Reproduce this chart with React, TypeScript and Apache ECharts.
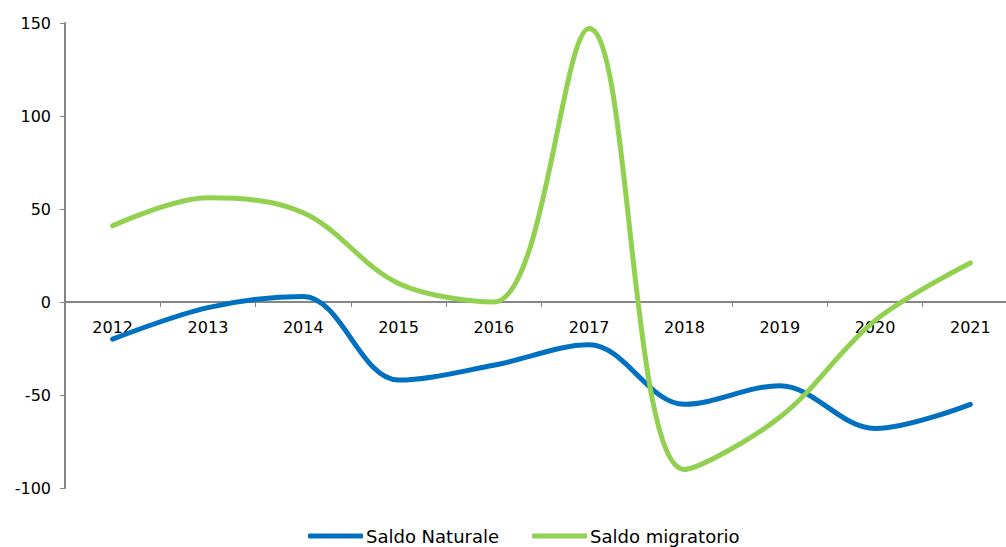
import React, { useEffect, useRef } from "react";
import * as echarts from "echarts";

const years = ["2012", "2013", "2014", "2015", "2016", "2017", "2018", "2019", "2020", "2021"];
const saldoNaturale = [-20, -3, 3, -42, -34, -23, -55, -45, -68, -55];
const saldoMigratorio = [41, 56, 48, 10, 0, 147, -90, -62, -10, 21];
const yTicks = { min: -100, max: 150, interval: 50 };

const FONT = "'DejaVu Sans', 'Noto Sans', sans-serif";

export default function App() {
  const ref = useRef<HTMLDivElement>(null);
  useEffect(() => {
    if (!ref.current) return;
    const chart = echarts.init(ref.current, undefined, { renderer: "svg" });
    chart.setOption({
      animation: false,
      backgroundColor: "#ffffff",
      grid: { left: 65, right: 2, top: 23, bottom: 59, containLabel: false },
      legend: {
        bottom: -3,
        left: 303,
        itemWidth: 55,
        itemHeight: 5,
        itemGap: 33,
        icon: "roundRect",
        textStyle: { fontFamily: FONT, fontSize: 18, color: "#000", padding: [0, 0, 0, -2] },
        data: ["Saldo Naturale", "Saldo migratorio"],
      },
      xAxis: {
        type: "category",
        data: years,
        boundaryGap: true,
        offset: -186,
        axisLine: { onZero: false, lineStyle: { color: "#868686", width: 2 } },
        axisTick: { show: true, length: 5, inside: false, lineStyle: { color: "#868686" } },
        axisLabel: { fontFamily: FONT, fontSize: 16, color: "#000", margin: 17 },
        splitLine: { show: false },
      },
      yAxis: {
        type: "value",
        min: yTicks.min,
        max: yTicks.max,
        interval: yTicks.interval,
        axisLine: { show: true, lineStyle: { color: "#868686", width: 2 } },
        axisTick: { show: true, length: 5, lineStyle: { color: "#868686" } },
        axisLabel: { fontFamily: FONT, fontSize: 16, color: "#000", margin: 14 },
        splitLine: { show: false },
      },
      series: [
        {
          name: "Saldo Naturale",
          type: "line",
          data: saldoNaturale,
          smooth: 0.35,
          showSymbol: false,
          symbol: "none",
          lineStyle: { color: "#0070C0", width: 5, cap: "round" },
          itemStyle: { color: "#0070C0" },
        },
        {
          name: "Saldo migratorio",
          type: "line",
          data: saldoMigratorio,
          smooth: 0.35,
          showSymbol: false,
          symbol: "none",
          lineStyle: { color: "#92D050", width: 5, cap: "round" },
          itemStyle: { color: "#92D050" },
        },
      ],
    });
    return () => chart.dispose();
  }, []);
  return (
    <div
      style={{ position: "fixed", left: 0, top: 0, width: 1006, height: 547, overflow: "hidden", background: "#fff" }}
    >
      <div ref={ref} style={{ width: 1020, height: 547 }} />
    </div>
  );
}
